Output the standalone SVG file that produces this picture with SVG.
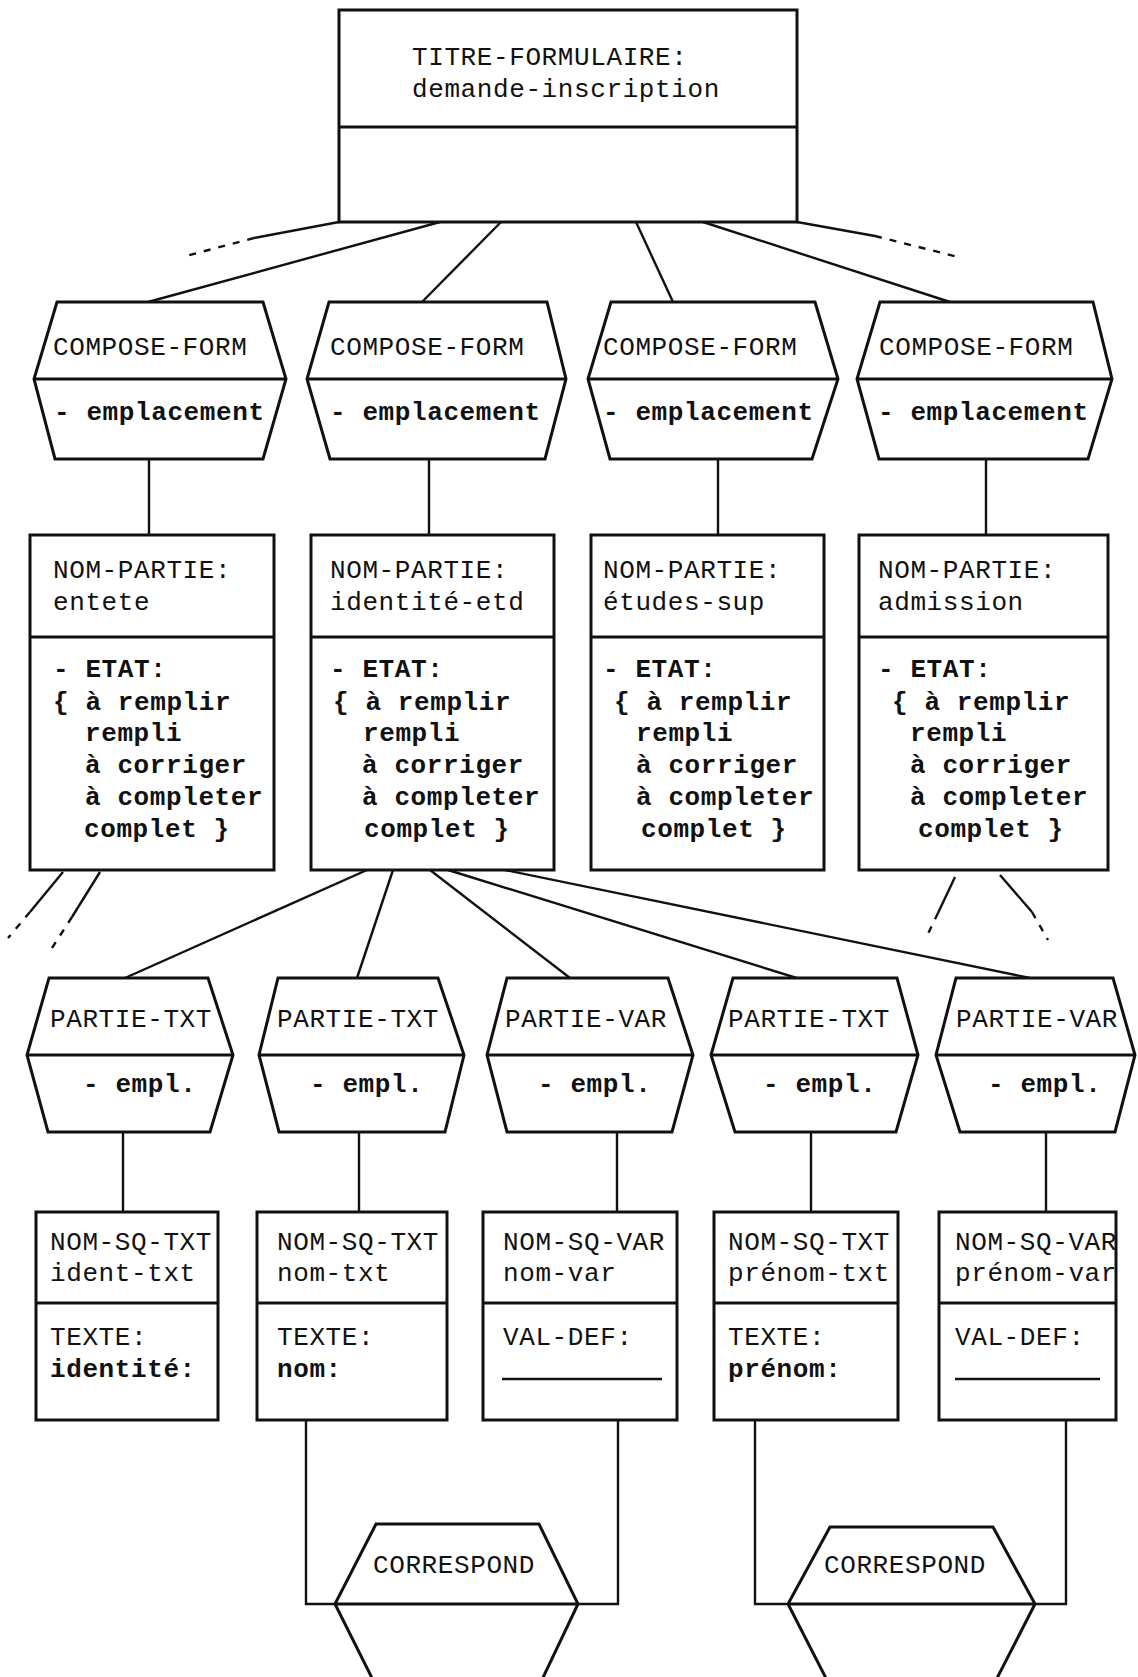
<svg xmlns="http://www.w3.org/2000/svg" width="1138" height="1677" viewBox="0 0 1138 1677">
<style>
.n{fill:#fff;stroke:#111;stroke-width:3;stroke-linejoin:miter}
.l{fill:none;stroke:#111;stroke-width:3}
.c{fill:none;stroke:#111;stroke-width:2.4}
.d{stroke-dasharray:7 8}
text{font-family:"Liberation Mono","DejaVu Sans Mono",monospace;font-size:26px;letter-spacing:0.6px;fill:#111}
.b{font-weight:bold}
</style>
<rect x="0" y="0" width="1138" height="1677" fill="#fff"/>
<g id="connectors">
<path class="c" d="M339 222 L254 238"/>
<path class="c d" d="M254 238 L182 257"/>
<path class="c" d="M440 222 L148 302"/>
<path class="c" d="M501 222 L422 302"/>
<path class="c" d="M636 222 L673 302"/>
<path class="c" d="M703 222 L950 302"/>
<path class="c" d="M797 222 L875 236"/>
<path class="c d" d="M875 236 L962 258"/>
<path class="c" d="M149 459 V535 M429 459 V535 M718 459 V535 M986 459 V535"/>
<path class="c" d="M63 872 L30 912"/>
<path class="c d" d="M30 912 L8 938"/>
<path class="c" d="M100 872 L72 917"/>
<path class="c d" d="M72 917 L52 948"/>
<path class="c" d="M955 877 L938 913"/>
<path class="c d" d="M938 913 L926 938"/>
<path class="c" d="M1000 875 L1032 912"/>
<path class="c d" d="M1032 912 L1048 940"/>
<path class="c" d="M367 870 L125 978"/>
<path class="c" d="M393 870 L357 978"/>
<path class="c" d="M430 870 L570 978"/>
<path class="c" d="M448 870 L800 979"/>
<path class="c" d="M505 870 L1030 978"/>
<path class="c" d="M123 1132 V1212 M359 1132 V1212 M617 1132 V1212 M811 1132 V1212 M1046 1132 V1212"/>
<path class="c" d="M306 1420 V1604 H335 M618 1420 V1604 H578"/>
<path class="c" d="M755 1420 V1604 H788 M1066 1420 V1604 H1035"/>
</g>
<g id="titre-formulaire">
<rect class="n" x="339" y="10" width="458" height="212"/>
<line class="l" x1="339" y1="127" x2="797" y2="127"/>
<text x="412" y="65">TITRE-FORMULAIRE:</text>
<text x="412" y="97">demande-inscription</text>
</g>
<g id="compose-form-1">
<polygon class="n" points="57,302 263,302 286,379 263,459 55,459 34,379"/>
<line class="l" x1="34" y1="379" x2="286" y2="379"/>
<text x="53" y="355">COMPOSE-FORM</text>
<text class="b" x="54" y="420">- emplacement</text>
</g>
<g id="compose-form-2">
<polygon class="n" points="329,302 547,302 566,379 545,459 330,459 307,379"/>
<line class="l" x1="307" y1="379" x2="566" y2="379"/>
<text x="330" y="355">COMPOSE-FORM</text>
<text class="b" x="330" y="420">- emplacement</text>
</g>
<g id="compose-form-3">
<polygon class="n" points="611,302 815,302 838,379 812,459 610,459 588,379"/>
<line class="l" x1="588" y1="379" x2="838" y2="379"/>
<text x="603" y="355">COMPOSE-FORM</text>
<text class="b" x="603" y="420">- emplacement</text>
</g>
<g id="compose-form-4">
<polygon class="n" points="880,302 1093,302 1112,379 1088,459 879,459 857,379"/>
<line class="l" x1="857" y1="379" x2="1112" y2="379"/>
<text x="879" y="355">COMPOSE-FORM</text>
<text class="b" x="878" y="420">- emplacement</text>
</g>
<g id="partie-entete">
<rect class="n" x="30" y="535" width="244" height="335"/>
<line class="l" x1="30" y1="637" x2="274" y2="637"/>
<text x="53" y="578">NOM-PARTIE:</text>
<text x="53" y="610">entete</text>
<text class="b" x="53" y="677">- ETAT:</text>
<text class="b" x="53" y="710">{ à remplir</text>
<text class="b" x="85" y="741">rempli</text>
<text class="b" x="85" y="773">à corriger</text>
<text class="b" x="85" y="805">à completer</text>
<text class="b" x="84" y="837">complet }</text>
</g>
<g id="partie-identite-etd">
<rect class="n" x="311" y="535" width="243" height="335"/>
<line class="l" x1="311" y1="637" x2="554" y2="637"/>
<text x="330" y="578">NOM-PARTIE:</text>
<text x="330" y="610">identité-etd</text>
<text class="b" x="330" y="677">- ETAT:</text>
<text class="b" x="333" y="710">{ à remplir</text>
<text class="b" x="363" y="741">rempli</text>
<text class="b" x="362" y="773">à corriger</text>
<text class="b" x="362" y="805">à completer</text>
<text class="b" x="364" y="837">complet }</text>
</g>
<g id="partie-etudes-sup">
<rect class="n" x="591" y="535" width="233" height="335"/>
<line class="l" x1="591" y1="637" x2="824" y2="637"/>
<text x="603" y="578">NOM-PARTIE:</text>
<text x="603" y="610">études-sup</text>
<text class="b" x="603" y="677">- ETAT:</text>
<text class="b" x="614" y="710">{ à remplir</text>
<text class="b" x="636" y="741">rempli</text>
<text class="b" x="636" y="773">à corriger</text>
<text class="b" x="636" y="805">à completer</text>
<text class="b" x="641" y="837">complet }</text>
</g>
<g id="partie-admission">
<rect class="n" x="859" y="535" width="249" height="335"/>
<line class="l" x1="859" y1="637" x2="1108" y2="637"/>
<text x="878" y="578">NOM-PARTIE:</text>
<text x="878" y="610">admission</text>
<text class="b" x="878" y="677">- ETAT:</text>
<text class="b" x="892" y="710">{ à remplir</text>
<text class="b" x="910" y="741">rempli</text>
<text class="b" x="910" y="773">à corriger</text>
<text class="b" x="910" y="805">à completer</text>
<text class="b" x="918" y="837">complet }</text>
</g>
<g id="partie-txt-1">
<polygon class="n" points="49,978 208,978 233,1055 210,1132 48,1132 27,1055"/>
<line class="l" x1="27" y1="1055" x2="233" y2="1055"/>
<text x="50" y="1027">PARTIE-TXT</text>
<text class="b" x="83" y="1092">- empl.</text>
</g>
<g id="partie-txt-2">
<polygon class="n" points="278,978 438,978 464,1055 445,1132 279,1132 259,1055"/>
<line class="l" x1="259" y1="1055" x2="464" y2="1055"/>
<text x="277" y="1027">PARTIE-TXT</text>
<text class="b" x="310" y="1092">- empl.</text>
</g>
<g id="partie-var-3">
<polygon class="n" points="507,978 668,978 693,1055 672,1132 507,1132 487,1055"/>
<line class="l" x1="487" y1="1055" x2="693" y2="1055"/>
<text x="505" y="1027">PARTIE-VAR</text>
<text class="b" x="538" y="1092">- empl.</text>
</g>
<g id="partie-txt-4">
<polygon class="n" points="733,978 897,978 918,1055 896,1132 735,1132 711,1055"/>
<line class="l" x1="711" y1="1055" x2="918" y2="1055"/>
<text x="728" y="1027">PARTIE-TXT</text>
<text class="b" x="763" y="1092">- empl.</text>
</g>
<g id="partie-var-5">
<polygon class="n" points="956,978 1113,978 1135,1055 1115,1132 960,1132 936,1055"/>
<line class="l" x1="936" y1="1055" x2="1135" y2="1055"/>
<text x="956" y="1027">PARTIE-VAR</text>
<text class="b" x="988" y="1092">- empl.</text>
</g>
<g id="sq-ident-txt">
<rect class="n" x="36" y="1212" width="182" height="208"/>
<line class="l" x1="36" y1="1303" x2="218" y2="1303"/>
<text x="50" y="1250">NOM-SQ-TXT</text>
<text x="50" y="1281">ident-txt</text>
<text x="50" y="1345">TEXTE:</text>
<text class="b" x="50" y="1377">identité:</text>
</g>
<g id="sq-nom-txt">
<rect class="n" x="257" y="1212" width="190" height="208"/>
<line class="l" x1="257" y1="1303" x2="447" y2="1303"/>
<text x="277" y="1250">NOM-SQ-TXT</text>
<text x="277" y="1281">nom-txt</text>
<text x="277" y="1345">TEXTE:</text>
<text class="b" x="277" y="1377">nom:</text>
</g>
<g id="sq-nom-var">
<rect class="n" x="483" y="1212" width="194" height="208"/>
<line class="l" x1="483" y1="1303" x2="677" y2="1303"/>
<text x="503" y="1250">NOM-SQ-VAR</text>
<text x="503" y="1281">nom-var</text>
<text x="503" y="1345">VAL-DEF:</text>
<line class="c" x1="502" y1="1379" x2="662" y2="1379"/>
</g>
<g id="sq-prenom-txt">
<rect class="n" x="714" y="1212" width="184" height="208"/>
<line class="l" x1="714" y1="1303" x2="898" y2="1303"/>
<text x="728" y="1250">NOM-SQ-TXT</text>
<text x="728" y="1281">prénom-txt</text>
<text x="728" y="1345">TEXTE:</text>
<text class="b" x="728" y="1377">prénom:</text>
</g>
<g id="sq-prenom-var">
<rect class="n" x="939" y="1212" width="177" height="208"/>
<line class="l" x1="939" y1="1303" x2="1116" y2="1303"/>
<text x="955" y="1250">NOM-SQ-VAR</text>
<text x="955" y="1281">prénom-var</text>
<text x="955" y="1345">VAL-DEF:</text>
<line class="c" x1="955" y1="1379" x2="1100" y2="1379"/>
</g>
<g id="correspond-1">
<polygon class="n" points="376,1524 539,1524 578,1604 539,1686 376,1686 335,1604"/>
<line class="l" x1="335" y1="1604" x2="578" y2="1604"/>
<text x="373" y="1573">CORRESPOND</text>
</g>
<g id="correspond-2">
<polygon class="n" points="830,1527 993,1527 1035,1604 993,1686 830,1686 788,1604"/>
<line class="l" x1="788" y1="1604" x2="1035" y2="1604"/>
<text x="824" y="1573">CORRESPOND</text>
</g>
</svg>
